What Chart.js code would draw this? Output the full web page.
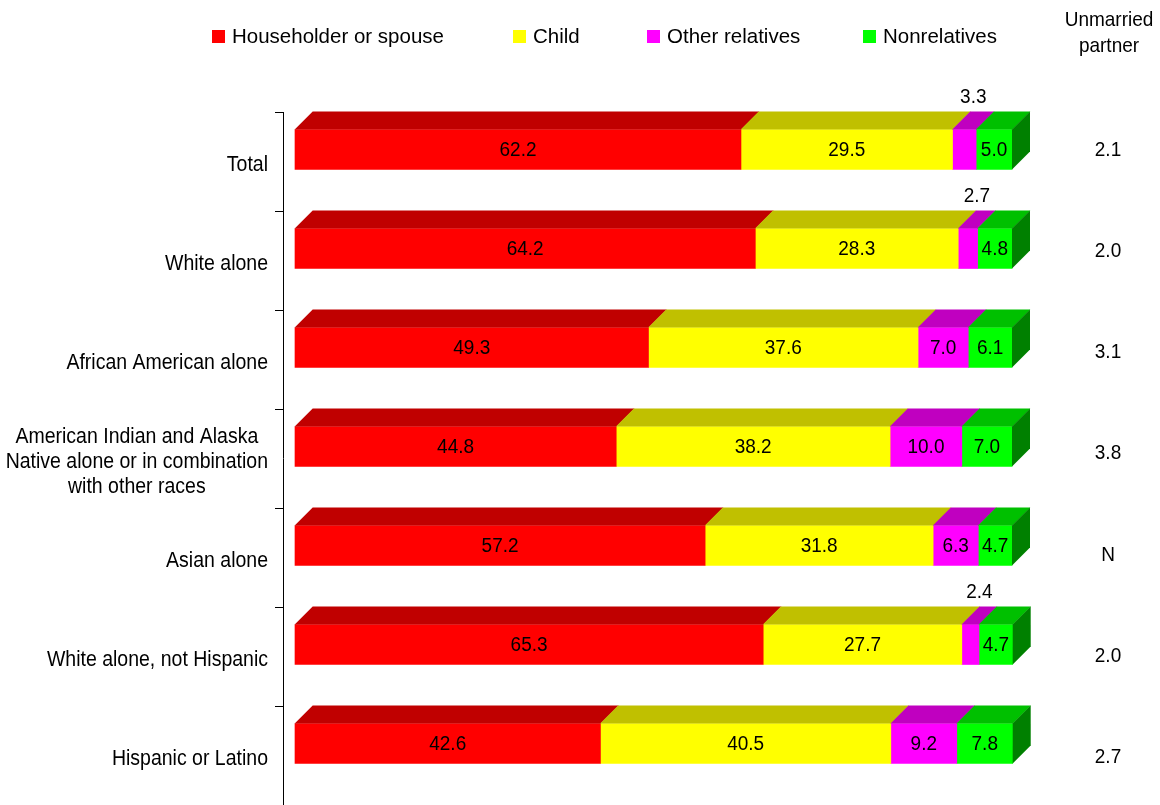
<!DOCTYPE html>
<html><head><meta charset="utf-8">
<script src="https://cdn.jsdelivr.net/npm/chart.js@4.4.1/dist/chart.umd.min.js"></script>
<style>html,body{margin:0;padding:0;background:#fff;overflow:hidden}#wrap{width:1160px;height:805px}</style>
</head><body><div id="wrap"><canvas id="c" width="1160" height="805"></canvas></div>
<script>
// ---- data ----
const categories = [
  ["Total"],
  ["White alone"],
  ["African American alone"],
  ["American Indian and Alaska", "Native alone or in combination", "with other races"],
  ["Asian alone"],
  ["White alone, not Hispanic"],
  ["Hispanic or Latino"]
];
const seriesNames = ["Householder or spouse", "Child", "Other relatives", "Nonrelatives"];
const householder    = [62.2, 64.2, 49.3, 44.8, 57.2, 65.3, 42.6];
const child          = [29.5, 28.3, 37.6, 38.2, 31.8, 27.7, 40.5];
const otherRelatives = [3.3, 2.7, 7.0, 10.0, 6.3, 2.4, 9.2];
const nonrelatives   = [5.0, 4.8, 6.1, 7.0, 4.7, 4.7, 7.8];
const unmarriedHeader = ["Unmarried", "partner"];
const unmarriedPartner = ["2.1", "2.0", "3.1", "3.8", "N", "2.0", "2.7"];

// ---- styles ----
const FONT = '"Liberation Sans", Arial, Helvetica, sans-serif';
const frontColors = ["#FF0000", "#FFFF00", "#FF00FF", "#00FF00"];
const topColors   = ["#C00000", "#C0C000", "#C000C0", "#00C000"];
const sideColors  = ["#800000", "#808000", "#800080", "#008000"];
const DEPTH = 18;
const TEXT_SY = 1.1;
const legendX = [212, 513, 647, 863];

const seriesValues = [householder, child, otherRelatives, nonrelatives];

function drawText(ctx, s, x, y, sy) {
  ctx.save();
  ctx.translate(x, y);
  ctx.scale(1, sy);
  ctx.fillText(s, 0, 0);
  ctx.restore();
}

const plugin3d = {
  id: 'bars3d',
  afterDatasetsDraw(chart) {
    const ctx = chart.ctx;
    const n = chart.data.datasets.length;
    ctx.save();
    for (let d = 0; d < n; d++) {
      const meta = chart.getDatasetMeta(d);
      meta.data.forEach((bar) => {
        const p = bar.getProps(['x', 'y', 'base', 'height'], true);
        const top = p.y - p.height / 2, bottom = p.y + p.height / 2;
        ctx.fillStyle = topColors[d];
        ctx.beginPath();
        ctx.moveTo(p.base - 0.3, top);
        ctx.lineTo(p.base + DEPTH - 0.3, top - DEPTH);
        ctx.lineTo(p.x + DEPTH + 0.3, top - DEPTH);
        ctx.lineTo(p.x + 0.3, top);
        ctx.closePath();
        ctx.fill();
        if (d === n - 1) {
          ctx.fillStyle = sideColors[d];
          ctx.beginPath();
          ctx.moveTo(p.x, top);
          ctx.lineTo(p.x + DEPTH, top - DEPTH);
          ctx.lineTo(p.x + DEPTH, bottom - DEPTH);
          ctx.lineTo(p.x, bottom);
          ctx.closePath();
          ctx.fill();
        }
      });
    }
    // value labels
    ctx.fillStyle = '#000';
    ctx.font = '19px ' + FONT;
    ctx.textAlign = 'center';
    ctx.textBaseline = 'middle';
    for (let d = 0; d < n; d++) {
      const meta = chart.getDatasetMeta(d);
      meta.data.forEach((bar, i) => {
        const p = bar.getProps(['x', 'y', 'base', 'height'], true);
        const top = p.y - p.height / 2;
        const v = chart.data.datasets[d].data[i];
        const txt = v.toFixed(1);
        const w = p.x - p.base;
        if (w < 30) {
          drawText(ctx, txt, (p.x + p.base) / 2 + DEPTH / 2, top - DEPTH - 14, TEXT_SY);
        } else {
          drawText(ctx, txt, (p.x + p.base) / 2, p.y + 1, TEXT_SY);
        }
      });
    }
    ctx.restore();
  },
  afterDraw(chart) {
    const ctx = chart.ctx;
    const area = chart.chartArea;
    const yScale = chart.scales.y;
    const nCat = chart.data.labels.length;
    const band = (area.bottom - area.top) / nCat;
    const axisX = area.left - 12;
    ctx.save();
    // axis line and ticks
    ctx.strokeStyle = '#000';
    ctx.lineWidth = 1;
    ctx.beginPath();
    ctx.moveTo(axisX + 0.5, area.top + 12);
    ctx.lineTo(axisX + 0.5, area.bottom + 12);
    for (let k = 0; k <= nCat; k++) {
      const ty = Math.round(area.top + k * band + 12) + 0.5;
      ctx.moveTo(axisX - 8, ty);
      ctx.lineTo(axisX + 0.5, ty);
    }
    ctx.stroke();
    // category labels
    ctx.fillStyle = '#000';
    ctx.font = '19.5px ' + FONT;
    ctx.textBaseline = 'middle';
    ctx.textAlign = 'center';
    chart.data.labels.forEach((lines, i) => {
      const cy = yScale.getPixelForValue(i) + 16;
      const widths = lines.map(l => ctx.measureText(l).width);
      const maxW = Math.max(...widths);
      const cx = axisX - 15 - maxW / 2;
      const lh = 25;
      lines.forEach((l, j) => {
        drawText(ctx, l, cx, cy + (j - (lines.length - 1) / 2) * lh, TEXT_SY);
      });
    });
    // unmarried partner column
    const colX = area.right + 96;
    ctx.font = '19px ' + FONT;
    drawText(ctx, unmarriedHeader[0], colX + 1, 20, TEXT_SY);
    drawText(ctx, unmarriedHeader[1], colX + 1, 46, TEXT_SY);
    unmarriedPartner.forEach((t, i) => {
      drawText(ctx, t, colX, yScale.getPixelForValue(i) + 0.6 + i * 2.2, TEXT_SY);
    });
    // legend
    ctx.font = '20.5px ' + FONT;
    ctx.textAlign = 'left';
    chart.data.datasets.forEach((ds, d) => {
      const lx = legendX[d];
      ctx.fillStyle = frontColors[d];
      ctx.fillRect(lx, 30, 13, 13);
      ctx.fillStyle = '#000';
      drawText(ctx, ds.label, lx + 20, 37, 1.03);
    });
    ctx.restore();
  }
};

new Chart(document.getElementById('c'), {
  type: 'bar',
  data: {
    labels: categories,
    datasets: seriesNames.map((name, d) => ({
      label: name,
      data: seriesValues[d],
      backgroundColor: frontColors[d],
      borderWidth: 0,
      barThickness: 40,
      clip: false
    }))
  },
  options: {
    indexAxis: 'y',
    responsive: false,
    animation: false,
    layout: { padding: { left: 295, right: 148, top: 100, bottom: 12 } },
    plugins: { legend: { display: false }, tooltip: { enabled: false } },
    scales: {
      x: { stacked: true, min: 0, max: 100, display: false },
      y: { stacked: true, display: false }
    }
  },
  plugins: [plugin3d]
});
</script>
</body></html>
